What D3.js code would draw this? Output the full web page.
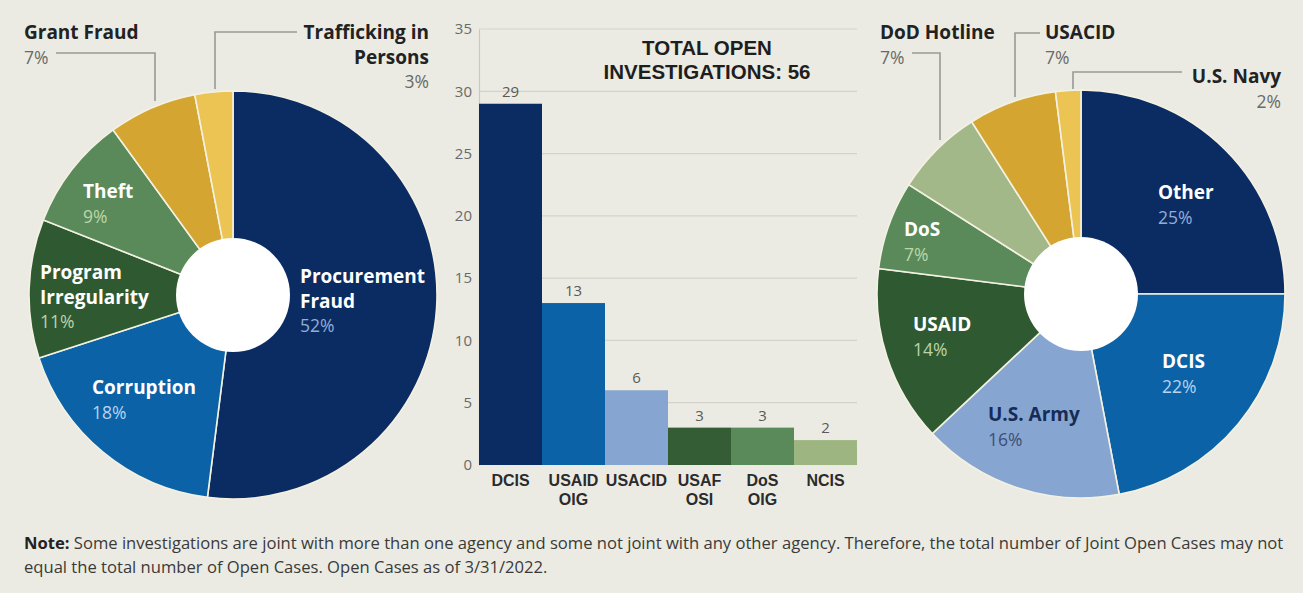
<!DOCTYPE html>
<html><head><meta charset="utf-8">
<script src="https://cdn.jsdelivr.net/npm/d3@7"></script>
<style>
html,body{margin:0;padding:0;background:#ebebe4;}
svg{display:block;font-family:"Open Sans",sans-serif;}
</style></head>
<body>
<svg id="c" width="1303" height="593"></svg>
<script>
// ---------- DATA ----------
const typeCategories = ["Procurement Fraud","Corruption","Program Irregularity","Theft","Grant Fraud","Trafficking in Persons"];
const typeShares = [52,18,11,9,7,3];

const agencyBars = ["DCIS","USAID OIG","USACID","USAF OSI","DoS OIG","NCIS"];
const agencyCounts = [29,13,6,3,3,2];
const yTicks = [0,5,10,15,20,25,30,35];
const totalOpen = 56;

const leadCategories = ["Other","DCIS","U.S. Army","USAID","DoS","DoD Hotline","USACID","U.S. Navy"];
const leadShares = [25,22,16,14,7,7,7,2];

// ---------- STYLE / LAYOUT ----------
const svg = d3.select("#c");
const navy="#0b2c63", blue="#0b62a6", lblue="#86a6d1", dgreen="#2f5a31", mgreen="#5a8a5a", sage="#a3b888", gold="#d4a530", lgold="#ebc454";
const typeColors=[navy,blue,dgreen,mgreen,gold,lgold];
const barColors=[navy,blue,lblue,"#345d35",mgreen,"#9db581"];
const leadColors=[navy,blue,lblue,dgreen,mgreen,sage,gold,lgold];

function drawDonut(cx,cy,r,r0,values,colors){
  const g=svg.append("g").attr("transform",`translate(${cx},${cy})`);
  const pie=d3.pie().sort(null).value(d=>d)(values);
  const arc=d3.arc().innerRadius(0).outerRadius(r);
  g.selectAll("path").data(pie).join("path")
    .attr("d",arc).attr("fill",(d,i)=>colors[i])
    .attr("stroke","#f3f1e2").attr("stroke-width",1.6);
  g.append("circle").attr("r",r0).attr("fill","#ffffff");
  return g;
}
function label(x,y,lines,opts){
  const t=svg.append("text").attr("x",x).attr("y",y).attr("text-anchor",opts.anchor||"start");
  lines.forEach((l,i)=>{
    t.append("tspan").attr("x",x).attr("dy",i===0?0:opts.lh||24.5)
     .attr("font-weight",l.b?700:400).attr("font-size",l.b?19:17.5)
     .attr("fill",l.c).text(l.t);
  });
}
function leader(pts){
  svg.append("path").attr("d",d3.line()(pts)).attr("fill","none").attr("stroke","#9a9a94").attr("stroke-width",1.6);
}

// ---------- LEFT DONUT ----------
drawDonut(233,295,204,57,typeShares,typeColors);
const pct=v=>v+"%";
label(300,283,[{t:"Procurement",b:1,c:"#fff"},{t:"Fraud",b:1,c:"#fff"},{t:pct(typeShares[0]),c:"#93acd8"}],{});
label(92,394,[{t:"Corruption",b:1,c:"#fff"},{t:pct(typeShares[1]),c:"#b9d2ee"}],{});
label(40,279,[{t:"Program",b:1,c:"#fff"},{t:"Irregularity",b:1,c:"#fff"},{t:pct(typeShares[2]),c:"#bcd2ab"}],{});
label(83,198,[{t:"Theft",b:1,c:"#fff"},{t:pct(typeShares[3]),c:"#bcd6a8"}],{});
label(24,39,[{t:"Grant Fraud",b:1,c:"#222"},{t:pct(typeShares[4]),c:"#6a6a66"}],{});
label(429,39,[{t:"Trafficking in",b:1,c:"#222"},{t:"Persons",b:1,c:"#222"},{t:pct(typeShares[5]),c:"#6a6a66"}],{anchor:"end"});
leader([[56,53],[155,53],[155,101]]);
leader([[297,32],[215,32],[215,89]]);

// ---------- BAR CHART ----------
const x=d3.scaleBand().domain(agencyBars).range([479,857]).padding(0);
const y=d3.scaleLinear().domain([0,35]).range([465,29]);
const bg=svg.append("g");
bg.selectAll("line.grid").data(yTicks.filter(v=>v>0)).join("line").attr("class","grid")
  .attr("x1",479).attr("x2",857).attr("y1",d=>y(d)).attr("y2",d=>y(d))
  .attr("stroke","#d3d3cb").attr("stroke-width",1.2);
const yAxis=d3.axisLeft(y).tickValues(yTicks).tickSize(0).tickPadding(7);
const ya=bg.append("g").attr("transform","translate(479,0)").call(yAxis);
ya.select(".domain").attr("stroke","#c9c9c1").attr("stroke-width",1.2);
ya.selectAll("text").attr("font-size",15).attr("fill","#6a6a66").attr("font-family","'Open Sans',sans-serif");
bg.selectAll("rect.bar").data(agencyCounts).join("rect").attr("class","bar")
  .attr("x",(d,i)=>x(agencyBars[i])).attr("width",x.bandwidth())
  .attr("y",d=>y(d)).attr("height",d=>y(0)-y(d))
  .attr("fill",(d,i)=>barColors[i]);
bg.selectAll("text.val").data(agencyCounts).join("text").attr("class","val")
  .attr("x",(d,i)=>x(agencyBars[i])+x.bandwidth()/2).attr("y",d=>y(d)-7)
  .attr("text-anchor","middle").attr("font-size",15).attr("fill","#5a5a56").text(d=>d);
agencyBars.forEach((c,i)=>{
  const parts=c.split(" ");
  parts.forEach((p,j)=>bg.append("text").attr("text-anchor","middle")
    .attr("font-family","'Liberation Sans',Arial,sans-serif").attr("font-size",16).attr("font-weight",700).attr("fill","#2b2b2b")
    .attr("x",x(c)+x.bandwidth()/2).attr("y",486+j*18.5).text(p));
});
["TOTAL OPEN","INVESTIGATIONS: "+totalOpen].forEach((s,j)=>
  svg.append("text").attr("text-anchor","middle").attr("font-family","'Liberation Sans',Arial,sans-serif")
    .attr("font-size",20.5).attr("font-weight",700).attr("fill","#1e1e1e")
    .attr("x",707).attr("y",55+j*24).text(s));

// ---------- RIGHT DONUT ----------
drawDonut(1081,294,204,57,leadShares,leadColors);
label(1158,199,[{t:"Other",b:1,c:"#fff"},{t:pct(leadShares[0]),c:"#93acd8"}],{});
label(1162,368,[{t:"DCIS",b:1,c:"#fff"},{t:pct(leadShares[1]),c:"#b9d2ee"}],{});
label(988,421,[{t:"U.S. Army",b:1,c:"#172b57"},{t:pct(leadShares[2]),c:"#3e4f74"}],{});
label(913,331,[{t:"USAID",b:1,c:"#fff"},{t:pct(leadShares[3]),c:"#bcd2ab"}],{});
label(904,236,[{t:"DoS",b:1,c:"#fff"},{t:pct(leadShares[4]),c:"#bcd6a8"}],{});
label(880,39,[{t:"DoD Hotline",b:1,c:"#222"},{t:pct(leadShares[5]),c:"#6a6a66"}],{});
label(1045,39,[{t:"USACID",b:1,c:"#222"},{t:pct(leadShares[6]),c:"#6a6a66"}],{});
label(1281,83,[{t:"U.S. Navy",b:1,c:"#222"},{t:pct(leadShares[7]),c:"#6a6a66"}],{anchor:"end"});
leader([[912,53],[940,53],[940,140]]);
leader([[1040,33],[1015,33],[1015,97]]);
leader([[1182,72],[1073,72],[1073,89]]);

// ---------- NOTE ----------
const note=svg.append("text").attr("font-size",16.6).attr("fill","#3a3a38");
const n1=note.append("tspan").attr("x",24).attr("y",549);
n1.append("tspan").attr("font-weight",700).attr("fill","#222").text("Note:");
n1.append("tspan").text(" Some investigations are joint with more than one agency and some not joint with any other agency. Therefore, the total number of Joint Open Cases may not");
note.append("tspan").attr("x",24).attr("y",573).text("equal the total number of Open Cases. Open Cases as of 3/31/2022.");
</script>
</body></html>
